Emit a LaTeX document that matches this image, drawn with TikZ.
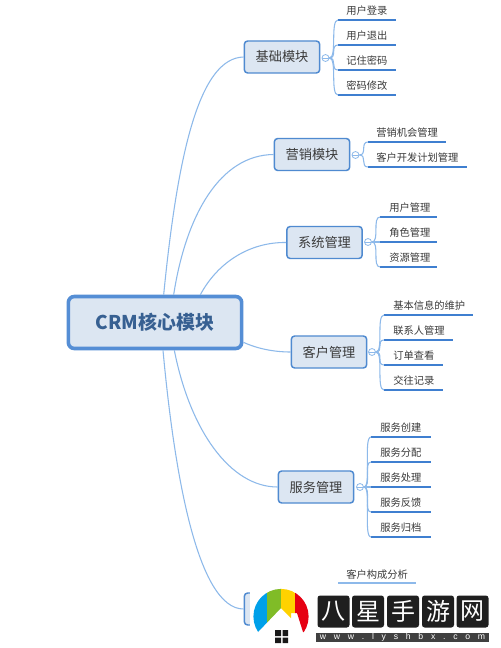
\documentclass[tikz,border=0pt]{standalone}
\usepackage{fontspec}
\setmainfont{Noto Sans CJK SC}
\newfontfamily\latinwm{Liberation Sans}
\definecolor{boxfill}{HTML}{DCE6F2}
\definecolor{boxline}{HTML}{4F8AD0}
\definecolor{rootline}{HTML}{558ED5}
\definecolor{rootink}{HTML}{376092}
\definecolor{branchc}{HTML}{8DB9EA}
\definecolor{underc}{HTML}{3F7FD0}
\definecolor{inkc}{HTML}{3A3A3A}
\tikzset{
  x=0.75pt,y=-0.75pt,
  rootbox/.style={draw=rootline,fill=boxfill,line width=2.7pt,rounded corners=4.5pt,minimum width=130pt,minimum height=39pt,inner sep=0pt,text=rootink,font=\fontsize{14.2}{16}\selectfont\bfseries},
  modbox/.style={draw=boxline,fill=boxfill,line width=1.1pt,rounded corners=2.5pt,minimum width=56.5pt,minimum height=24pt,inner sep=0pt,text=inkc,font=\fontsize{9.9}{12}\selectfont},
  foldc/.style={circle,draw=branchc,fill=white,line width=0.6pt,minimum size=5.2pt,inner sep=0pt,path picture={\draw[branchc,line width=0.5pt] (path picture bounding box.west) -- (path picture bounding box.east);}},
  branch/.style={draw=branchc,line width=0.8pt},
  underl/.style={draw=underc,line width=1.35pt},
  leaftext/.style={anchor=west,inner sep=0pt,text=inkc,font=\fontsize{7.7}{9}\selectfont},
  wmsq/.style={fill=black!88,rounded corners=2pt,minimum size=24pt,inner sep=0pt,text=white,font=\fontsize{18}{20}\selectfont},
}
\newcommand{\leafitem}[6]{%
  \coordinate (#1s) at (#2,#5);
  \coordinate (#1e) at (#3,#5);
  \node[leaftext] (#1) at (#4,#5-9.4) {#6};
  \draw[underl] (#1s) -- (#1e);
}
\newcommand{\forkto}[2]{%
  \draw[branch] (#1.east) .. controls ([xshift=6pt]#1.east) and ([xshift=-6pt]#2s) .. (#2s);
}
\begin{document}
\begin{tikzpicture}
\useasboundingbox (0,0) rectangle (500,648);
\fill[white] (0,0) rectangle (500,648);
\node[rootbox] (root) at (155,322.5) {CRM核心模块};
\node[modbox] (m1) at (282,57) {基础模块};
\node[modbox] (m2) at (312,154.5) {营销模块};
\node[modbox] (m3) at (324.5,242.5) {系统管理};
\node[modbox] (m4) at (329,352) {客户管理};
\node[modbox] (m5) at (316,487) {服务管理};
\node[modbox] (m6) at (282,609) {};
\draw[branch] ([xshift=6.5pt]root.north) .. controls (178,150) and (200,58) .. (m1.west);
\draw[branch] ([xshift=14pt]root.north) .. controls (186,215) and (220,155) .. (m2.west);
\draw[branch] ([xshift=34pt]root.north) .. controls (218,262) and (250,242) .. (m3.west);
\draw[branch] ([yshift=6pt]root.south east) .. controls (258,349) and (275,352) .. (m4.west);
\draw[branch] ([xshift=14.5pt]root.south) .. controls (190,430) and (230,487) .. (m5.west);
\draw[branch] ([xshift=6pt]root.south) .. controls (174,470) and (197,609) .. (m6.west);
\node[foldc] (f1) at (325.5,58) {};
\node[foldc] (f2) at (355.5,155) {};
\node[foldc] (f3) at (368,242) {};
\node[foldc] (f4) at (372,352) {};
\node[foldc] (f5) at (360,487) {};
\leafitem{a1}{338}{396}{346}{20}{用户登录}
\leafitem{a2}{338}{396}{346}{45}{用户退出}
\leafitem{a3}{338}{396}{346}{70}{记住密码}
\leafitem{a4}{338}{396}{346}{95}{密码修改}
\leafitem{b1}{368}{446}{376}{142}{营销机会管理}
\leafitem{b2}{368}{467}{376}{167}{客户开发计划管理}
\leafitem{c1}{380}{437}{389}{217}{用户管理}
\leafitem{c2}{380}{437}{389}{242}{角色管理}
\leafitem{c3}{380}{437}{389}{267}{资源管理}
\leafitem{d1}{384}{473}{393}{315}{基本信息的维护}
\leafitem{d2}{384}{453}{393}{340}{联系人管理}
\leafitem{d3}{384}{443}{393}{365}{订单查看}
\leafitem{d4}{384}{443}{393}{390}{交往记录}
\leafitem{e1}{371}{431}{380}{437}{服务创建}
\leafitem{e2}{371}{431}{380}{462}{服务分配}
\leafitem{e3}{371}{431}{380}{487}{服务处理}
\leafitem{e4}{371}{431}{380}{512}{服务反馈}
\leafitem{e5}{371}{431}{380}{537}{服务归档}
\foreach \l in {a1,a2,a3,a4} {\forkto{f1}{\l}}
\foreach \l in {b1,b2} {\forkto{f2}{\l}}
\foreach \l in {c1,c2,c3} {\forkto{f3}{\l}}
\foreach \l in {d1,d2,d3,d4} {\forkto{f4}{\l}}
\foreach \l in {e1,e2,e3,e4,e5} {\forkto{f5}{\l}}
\node[leaftext] (g1) at (346,574.4) {客户构成分析};
\coordinate (g1s) at (338,583);
\coordinate (g1e) at (416,583);
\draw[branch] (g1s) -- (g1e);
% watermark covers the last box
\fill[white] (250,588) rectangle (324,648);
\begin{scope}
  \clip (240,580) -- (325,580) -- (325,636) -- (303,632) -- (297,613) -- (291,613) -- (291,618) -- (281,608) -- (258,632) -- (240,636) -- cycle;
  \clip (281,616.5) circle[radius=20.7pt];
  \fill[white] (250,585) rectangle (315,640);
  \fill[fill={rgb,255:red,0;green,160;blue,233}] (250,585) rectangle (267,640);
  \fill[fill={rgb,255:red,128;green,188;blue,39}] (267,585) rectangle (281,640);
  \fill[fill={rgb,255:red,255;green,210;blue,0}] (281,585) rectangle (295,640);
  \fill[fill={rgb,255:red,230;green,0;blue,18}] (295,585) rectangle (315,640);
\end{scope}
\fill[black!90] (275,630) rectangle (281,636) (282.5,630) rectangle (288,636) (275,637.5) rectangle (281,643) (282.5,637.5) rectangle (288,643);
\node[wmsq] (w1) at (333.5,611.5) {八};
\node[wmsq] (w2) at (368,611.5) {星};
\node[wmsq] (w3) at (403,611.5) {手};
\node[wmsq] (w4) at (438,611.5) {游};
\node[wmsq] (w5) at (472.5,611.5) {网};
\node[fill=black!75,minimum width=130pt,minimum height=7pt,inner sep=0pt,text=white] (w6) at (402.5,637.5) {\hbox to 124pt{\latinwm\fontsize{6.5}{7}\selectfont w\hfil w\hfil w\hfil .\hfil l\hfil y\hfil s\hfil h\hfil b\hfil x\hfil .\hfil c\hfil o\hfil m}};
\end{tikzpicture}
\end{document}
